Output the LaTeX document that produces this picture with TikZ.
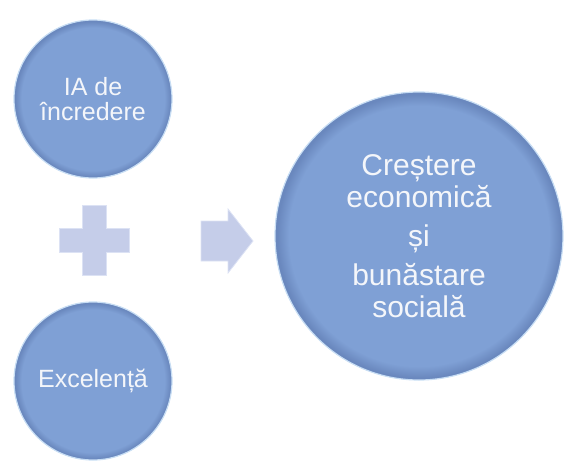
\documentclass[tikz,border=0pt]{standalone}
\usepackage{fontspec}
\setmainfont{Liberation Sans}
\usepackage{xcolor}
\definecolor{ballblue}{RGB}{127,160,213}
\definecolor{ballrim}{RGB}{106,136,190}
\definecolor{ballhalo}{RGB}{200,222,244}
\definecolor{signfill}{RGB}{197,205,233}
\definecolor{signedge}{RGB}{220,226,244}
\definecolor{labelwhite}{RGB}{244,246,250}
\pgfdeclareradialshading{ballshade}{\pgfpoint{0bp}{0bp}}{color(0bp)=(ballblue); color(22.6bp)=(ballblue); color(24.6bp)=(ballrim); color(25bp)=(ballrim); color(50bp)=(ballrim)}
\tikzset{
    ball/.style={circle, shade, shading=ballshade, draw=ballhalo, line width=1.2pt, text=labelwhite, align=center, inner sep=0pt},
    smallball/.style={ball, minimum size=158pt, font=\fontsize{25}{25}\selectfont},
    bigball/.style={ball, minimum size=288pt, font=\fontsize{30}{32}\selectfont},
    sign/.style={fill=signfill, draw=signedge, line width=0.8pt, line join=miter}
}

\begin{document}
\begin{tikzpicture}[x=1pt,y=-1pt]
                \useasboundingbox (0,0) rectangle (566,461);

                % Draw input circles
                \node[smallball] (trust) at (93,99) {IA de\\încredere};
                \node[smallball] (excel) at (93,381) {Excelență};

                % Draw plus sign
                \draw[sign] (82,205) -- (106,205) -- (106,228) -- (129,228) -- (129,252) -- (106,252)
                    -- (106,275) -- (82,275) -- (82,252) -- (59,252) -- (59,228) -- (82,228) -- cycle;

                % Draw arrow
                \draw[sign] (201,221) -- (228,221) -- (228,209) -- (253,241) -- (228,273) -- (228,261)
                    -- (201,261) -- cycle;

                % Draw result circle
                \node[bigball] (growth) at (419,236) {Creștere\\economică\\[7pt]și\\[7pt]bunăstare\\socială};
            \end{tikzpicture}
\end{document}
